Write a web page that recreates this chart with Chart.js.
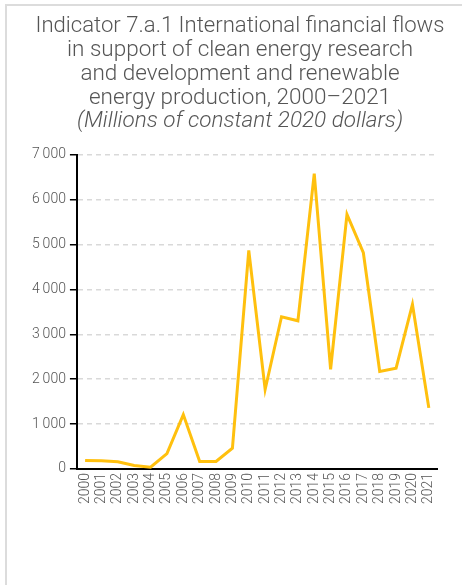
<!DOCTYPE html>
<html>
<head>
<meta charset="utf-8">
<script src="https://cdn.jsdelivr.net/npm/chart.js@4"></script>
<style>
html,body{margin:0;padding:0;background:#fff;overflow:hidden;}
#frame{position:absolute;left:5px;top:4px;width:480px;height:620px;border:2px solid #dcdcdc;box-sizing:border-box;}
#wrap{position:absolute;left:0;top:0;width:476px;height:610px;}
</style>
</head>
<body>
<div id="frame"><div id="wrap"><canvas id="c"></canvas></div></div>
<script>
const years = ["2000","2001","2002","2003","2004","2005","2006","2007","2008","2009","2010","2011","2012","2013","2014","2015","2016","2017","2018","2019","2020","2021"];
const flows = [190,180,160,75,40,340,1210,165,165,460,4870,1770,3390,3300,6580,2220,5670,4815,2170,2245,3665,1360];
const yTicks = [0,1000,2000,3000,4000,5000,6000,7000];
const titleLines = ["Indicator 7.a.1 International financial flows","in support of clean energy research","and development and renewable","energy production, 2000\u20132021"];
const subtitleText = "(Millions of constant 2020 dollars)";

const FONT = "'Roboto','Liberation Sans',sans-serif";
const fmt = v => String(v).replace(/\B(?=(\d{3})+(?!\d))/g, "\u2009");

const shiftTitles = {
  id: 'shiftTitles',
  afterLayout(chart) {
    chart.boxes.forEach(b => {
      if (b.options && b.options.text !== undefined && b.position === 'top') {
        b.left += 7.5; b.right += 7.5;
      }
    });
  }
};

new Chart(document.getElementById('c'), {
  type: 'line',
  data: {
    labels: years,
    datasets: [{
      data: flows,
      borderColor: '#FFC00E',
      borderWidth: 3,
      pointRadius: 0,
      tension: 0,
      fill: false
    }]
  },
  plugins: [shiftTitles],
  options: {
    responsive: true,
    maintainAspectRatio: false,
    animation: false,
    layout: {padding: {left: 21, right: 46, top: 5, bottom: 108}},
    plugins: {
      legend: {display: false},
      tooltip: {enabled: false},
      title: {
        display: true,
        text: titleLines,
        color: '#555',
        font: {family: FONT, size: 22.5, weight: 300, lineHeight: 1.055},
        padding: {top: 4, bottom: 0}
      },
      subtitle: {
        display: true,
        text: subtitleText,
        color: '#555',
        font: {family: FONT, size: 22.5, style: 'italic', weight: 300, lineHeight: 1.055},
        padding: {top: 0, bottom: 21}
      }
    },
    scales: {
      x: {
        offset: true,
        grid: {display: false, drawTicks: false},
        border: {display: true, color: '#000', width: 2},
        ticks: {
          color: '#555',
          font: {family: FONT, size: 14, weight: 300},
          maxRotation: 90,
          minRotation: 90,
          autoSkip: false,
          padding: 4
        }
      },
      y: {
        min: 0,
        max: 7000,
        afterBuildTicks: axis => { axis.ticks = yTicks.map(v => ({value: v})); },
        grid: {
          color: '#d9d9d9',
          lineWidth: 1.5,
          tickColor: '#000',
          tickLength: 7,
          tickWidth: 1.5,
          drawOnChartArea: true
        },
        border: {display: true, color: '#000', width: 2, dash: [5, 4]},
        ticks: {
          color: '#555',
          font: {family: FONT, size: 14, weight: 300},
          padding: 4,
          callback: v => fmt(v)
        }
      }
    }
  }
});
</script>
</body>
</html>
